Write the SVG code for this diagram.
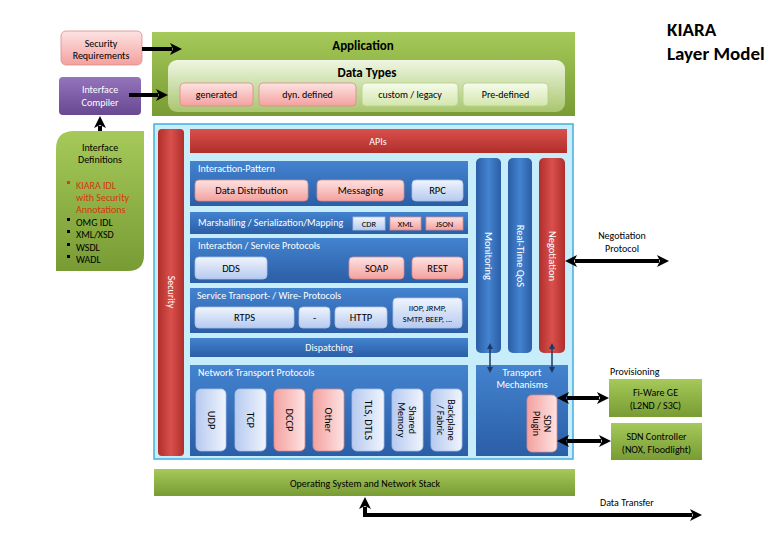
<svg xmlns="http://www.w3.org/2000/svg" width="780" height="540" viewBox="0 0 780 540">
<defs>
<linearGradient id="gPink" x1="0" y1="0" x2="0" y2="1"><stop offset="0" stop-color="#fde3e2"/><stop offset="1" stop-color="#f3a19f"/></linearGradient>
<linearGradient id="gPinkH" x1="0" y1="0" x2="1" y2="0"><stop offset="0" stop-color="#f3a19f"/><stop offset="1" stop-color="#fde3e2"/></linearGradient>
<linearGradient id="gLBlue" x1="0" y1="0" x2="0" y2="1"><stop offset="0" stop-color="#f0f4fd"/><stop offset="1" stop-color="#b6caf0"/></linearGradient>
<linearGradient id="gLBlueH" x1="0" y1="0" x2="1" y2="0"><stop offset="0" stop-color="#b6caf0"/><stop offset="1" stop-color="#f0f4fd"/></linearGradient>
<linearGradient id="gBlue" x1="0" y1="0" x2="0" y2="1"><stop offset="0" stop-color="#4383cf"/><stop offset="1" stop-color="#2b5ea6"/></linearGradient>
<linearGradient id="gBlueH" x1="0" y1="0" x2="1" y2="0"><stop offset="0" stop-color="#2b5ea6"/><stop offset="0.5" stop-color="#4383cf"/><stop offset="1" stop-color="#2b5ea6"/></linearGradient>
<linearGradient id="gRed" x1="0" y1="0" x2="0" y2="1"><stop offset="0" stop-color="#d9504c"/><stop offset="1" stop-color="#b02f2b"/></linearGradient>
<linearGradient id="gRedH" x1="0" y1="0" x2="1" y2="0"><stop offset="0" stop-color="#b02f2b"/><stop offset="0.5" stop-color="#d9504c"/><stop offset="1" stop-color="#b02f2b"/></linearGradient>
<linearGradient id="gGreen" x1="0" y1="0" x2="0" y2="1"><stop offset="0" stop-color="#a6c95a"/><stop offset="1" stop-color="#789b34"/></linearGradient>
<linearGradient id="gLGreen" x1="0" y1="0" x2="0" y2="1"><stop offset="0" stop-color="#eff6e2"/><stop offset="1" stop-color="#a9c66f"/></linearGradient>
<linearGradient id="gLGreenBox" x1="0" y1="0" x2="0" y2="1"><stop offset="0" stop-color="#f6fbec"/><stop offset="1" stop-color="#d3e6ad"/></linearGradient>
<linearGradient id="gPurple" x1="0" y1="0" x2="0" y2="1"><stop offset="0" stop-color="#9474bb"/><stop offset="1" stop-color="#684891"/></linearGradient>
<marker id="ah" viewBox="0 0 12 12" refX="2" refY="6" markerWidth="12" markerHeight="12" markerUnits="userSpaceOnUse" orient="auto-start-reverse"><path d="M0,0 L12,6 L0,12 L3,6 z" fill="#000"/></marker>
<marker id="sh" viewBox="0 0 6 6" refX="1" refY="3" markerWidth="6" markerHeight="6" markerUnits="userSpaceOnUse" orient="auto-start-reverse"><path d="M0,0 L6,3 L0,6 z" fill="#1f3864"/></marker>
</defs>
<style>
text{font-family:Carlito,"Liberation Sans",Arial,sans-serif;}
.c{text-anchor:middle;dominant-baseline:central;}
.l{dominant-baseline:central;}
.s9{font-size:10.5px;}
.s8{font-size:10px;}
.s7{font-size:8.5px;}
.w{fill:#fff;}
.k{fill:#000;}
.pink{fill:url(#gPink);stroke:#d98c8a;stroke-width:0.8;}
.pinkv{fill:url(#gPinkH);stroke:#d98c8a;stroke-width:0.8;}
.lb{fill:url(#gLBlue);stroke:#a9bfe6;stroke-width:0.8;}
.lbv{fill:url(#gLBlueH);stroke:#a9bfe6;stroke-width:0.8;}
.blue{fill:url(#gBlue);}
.bluev{fill:url(#gBlueH);}
.red{fill:url(#gRed);}
.redv{fill:url(#gRedH);}
.green{fill:url(#gGreen);}
.thick{stroke:#000;stroke-width:4;fill:none;marker-end:url(#ah);}
.thick2{stroke:#000;stroke-width:4;fill:none;marker-start:url(#ah);marker-end:url(#ah);}
.nav{stroke:#1f3864;stroke-width:1.5;fill:none;marker-start:url(#sh);marker-end:url(#sh);}
</style>

<g id="title">
<text x="667" y="36" style="font-size:19px;font-weight:bold;">KIARA</text>
<text x="667" y="60" style="font-size:19px;font-weight:bold;">Layer Model</text>
</g>

<g id="security-requirements">
<rect x="61" y="31" width="81" height="34" rx="5" class="pink"/>
<text x="101" y="43" class="c s8 k">Security</text>
<text x="101" y="55" class="c s8 k">Requirements</text>
</g>

<g id="interface-compiler">
<rect x="59" y="77" width="82" height="38" rx="4" fill="url(#gPurple)"/>
<text x="100" y="89" class="c s8 w">Interface</text>
<text x="100" y="102" class="c s8 w">Compiler</text>
</g>

<g id="interface-definitions">
<path d="M74,131 H144 V255 Q144,271 128,271 H56 V149 Q56,131 74,131 Z" class="green"/>
<text x="100" y="147" class="c s8 k">Interface</text>
<text x="100" y="159" class="c s8 k">Definitions</text>
<rect x="67" y="181" width="3" height="3" fill="#e03c10"/>
<text x="76" y="185" class="l s8" fill="#d8340c">KIARA IDL</text>
<text x="76" y="197" class="l s8" fill="#d8340c">with Security</text>
<text x="76" y="209" class="l s8" fill="#d8340c">Annotations</text>
<rect x="67" y="218" width="3" height="3" fill="#000"/>
<text x="76" y="222" class="l s8 k">OMG IDL</text>
<rect x="67" y="230" width="3" height="3" fill="#000"/>
<text x="76" y="234" class="l s8 k">XML/XSD</text>
<rect x="67" y="243" width="3" height="3" fill="#000"/>
<text x="76" y="247" class="l s8 k">WSDL</text>
<rect x="67" y="255" width="3" height="3" fill="#000"/>
<text x="76" y="259" class="l s8 k">WADL</text>
</g>

<g id="application">
<rect x="152" y="32" width="423" height="84" class="green"/>
<text x="363" y="45" class="c k" style="font-size:13px;font-weight:bold;">Application</text>
<rect x="168" y="60" width="397" height="52" rx="9" fill="url(#gLGreen)"/>
<text x="367" y="72" class="c k" style="font-size:13px;font-weight:bold;">Data Types</text>
<rect x="180" y="83" width="73" height="23" rx="4" class="pink"/>
<text x="216.5" y="94.5" class="c s8 k">generated</text>
<rect x="259" y="83" width="97" height="23" rx="4" class="pink"/>
<text x="307.5" y="94.5" class="c s8 k">dyn. defined</text>
<rect x="362" y="83" width="96" height="23" rx="4" fill="url(#gLGreenBox)" stroke="#b5cf86" stroke-width="0.8"/>
<text x="410" y="94.5" class="c s8 k">custom / legacy</text>
<rect x="463" y="83" width="85" height="23" rx="4" fill="url(#gLGreenBox)" stroke="#b5cf86" stroke-width="0.8"/>
<text x="505.5" y="94.5" class="c s8 k">Pre-defined</text>
</g>

<g id="middleware">
<rect x="154" y="124" width="419" height="335" fill="#c7ecfa" stroke="#44aedd" stroke-width="1.5"/>
</g>

<g id="security-bar">
<rect x="158" y="129" width="26" height="327" rx="4" class="redv"/>
<text x="171" y="292" class="c s8 w" transform="rotate(90 171 292)">Security</text>
</g>

<g id="apis">
<rect x="190" y="129" width="377" height="24" class="red"/>
<text x="378" y="141" class="c s8 w">APIs</text>
</g>

<g id="interaction-pattern">
<rect x="190" y="161" width="278" height="45" class="blue"/>
<text x="198" y="168" class="l s8 w">Interaction-Pattern</text>
<rect x="195" y="180" width="113" height="21" rx="4" class="pink"/>
<text x="251.5" y="190.5" class="c s9 k">Data Distribution</text>
<rect x="317" y="180" width="87" height="21" rx="4" class="pink"/>
<text x="360.5" y="190.5" class="c s9 k">Messaging</text>
<rect x="412" y="180" width="51" height="21" rx="4" class="lb"/>
<text x="437.5" y="190.5" class="c s9 k">RPC</text>
</g>

<g id="marshalling">
<rect x="190" y="212" width="278" height="22" class="blue"/>
<text x="198" y="222.5" class="l s8 w">Marshalling / Serialization/Mapping</text>
<rect x="353" y="217" width="32" height="13" class="lb"/>
<text x="369" y="223.5" class="c s7 k">CDR</text>
<rect x="390" y="217" width="31" height="13" class="pink"/>
<text x="405.5" y="223.5" class="c s7 k">XML</text>
<rect x="426" y="217" width="37" height="13" class="pink"/>
<text x="444.5" y="223.5" class="c s7 k">JSON</text>
</g>

<g id="service-protocols">
<rect x="190" y="238" width="278" height="45" class="blue"/>
<text x="198" y="245" class="l s8 w">Interaction / Service Protocols</text>
<rect x="195" y="257" width="72" height="22" rx="4" class="lb"/>
<text x="231" y="268" class="c s9 k">DDS</text>
<rect x="349" y="257" width="55" height="22" rx="4" class="pink"/>
<text x="376.5" y="268" class="c s9 k">SOAP</text>
<rect x="412" y="257" width="51" height="22" rx="4" class="pink"/>
<text x="437.5" y="268" class="c s9 k">REST</text>
</g>

<g id="wire-protocols">
<rect x="190" y="288" width="278" height="45" class="blue"/>
<text x="197" y="295" class="l s8 w">Service Transport- / Wire- Protocols</text>
<rect x="195" y="307" width="99" height="21" rx="4" class="lb"/>
<text x="244.5" y="317.5" class="c s9 k">RTPS</text>
<rect x="299" y="307" width="31" height="21" rx="4" class="lb"/>
<text x="314.5" y="317.5" class="c s9 k">-</text>
<rect x="335" y="307" width="52" height="21" rx="4" class="lb"/>
<text x="361" y="317.5" class="c s9 k">HTTP</text>
<rect x="393" y="298" width="69" height="30" rx="4" class="lb"/>
<text x="427.5" y="307.5" class="c s7 k">IIOP, JRMP,</text>
<text x="427.5" y="319" class="c s7 k">SMTP, BEEP, ...</text>
</g>

<g id="dispatching">
<rect x="190" y="338" width="278" height="19" class="blue"/>
<text x="329" y="347.5" class="c s8 w">Dispatching</text>
</g>

<g id="monitoring">
<rect x="476" y="158" width="25" height="195" rx="5" class="bluev"/>
<text x="488.5" y="256" class="c s9 w" transform="rotate(90 488.5 256)">Monitoring</text>
</g>
<g id="realtime-qos">
<rect x="508" y="158" width="24" height="195" rx="5" class="bluev"/>
<text x="520" y="256" class="c s9 w" transform="rotate(90 520 256)">Real-Time QoS</text>
</g>
<g id="negotiation">
<rect x="539" y="158" width="26" height="195" rx="5" class="redv"/>
<text x="552" y="256" class="c s9 w" transform="rotate(90 552 256)">Negotiation</text>
</g>

<g id="network-transport">
<rect x="190" y="365" width="278" height="91" class="blue"/>
<text x="198" y="372" class="l s8 w">Network Transport Protocols</text>
<rect x="196" y="389" width="30" height="62" rx="5" class="lbv"/>
<text x="211" y="420" class="c s9 k" transform="rotate(90 211 420)">UDP</text>
<rect x="235" y="389" width="31" height="62" rx="5" class="lbv"/>
<text x="250.5" y="420" class="c s9 k" transform="rotate(90 250.5 420)">TCP</text>
<rect x="274" y="389" width="31" height="62" rx="5" class="pinkv"/>
<text x="289.5" y="420" class="c s9 k" transform="rotate(90 289.5 420)">DCCP</text>
<rect x="313" y="389" width="31" height="62" rx="5" class="pinkv"/>
<text x="328.5" y="420" class="c s9 k" transform="rotate(90 328.5 420)">Other</text>
<rect x="352" y="389" width="32" height="62" rx="5" class="lbv"/>
<text x="368" y="420" class="c s9 k" transform="rotate(90 368 420)">TLS, DTLS</text>
<rect x="392" y="389" width="31" height="62" rx="5" class="lbv"/>
<text x="407.5" y="420" class="c s8 k" transform="rotate(90 407.5 420)"><tspan x="407.5" dy="-5.5">Shared</tspan><tspan x="407.5" dy="11">Memory</tspan></text>
<rect x="431" y="389" width="31" height="62" rx="5" class="lbv"/>
<text x="446.5" y="420" class="c s8 k" transform="rotate(90 446.5 420)"><tspan x="446.5" dy="-5.5">Backplane</tspan><tspan x="446.5" dy="11">/ Fabric</tspan></text>
</g>

<g id="transport-mechanisms">
<rect x="476" y="365" width="92" height="91" class="blue"/>
<text x="522" y="372" class="c s8 w">Transport</text>
<text x="522" y="384" class="c s8 w">Mechanisms</text>
</g>
<g id="sdn-plugin">
<rect x="527" y="395" width="30" height="57" rx="5" class="pinkv"/>
<text x="542" y="423.5" class="c s8 k" transform="rotate(90 542 423.5)"><tspan x="542" dy="-5.5">SDN</tspan><tspan x="542" dy="11">Plugin</tspan></text>
</g>

<g id="os">
<rect x="154" y="469" width="421" height="27" class="green"/>
<text x="365" y="483" class="c s8 k">Operating System and Network Stack</text>
</g>

<g id="fiware-ge">
<rect x="609" y="379" width="93" height="38" class="green"/>
<text x="655.5" y="392" class="c s8 k">Fi-Ware GE</text>
<text x="655.5" y="405" class="c s8 k">(L2ND / S3C)</text>
</g>
<g id="sdn-controller">
<rect x="611" y="423" width="91" height="37" class="green"/>
<text x="656.5" y="436" class="c s8 k">SDN Controller</text>
<text x="656.5" y="449" class="c s8 k">(NOX, Floodlight)</text>
</g>

<g id="labels">
<text x="622" y="235" class="c s8 k">Negotiation</text>
<text x="622" y="248" class="c s8 k">Protocol</text>
<text x="610" y="371" class="l s8 k">Provisioning</text>
<text x="600" y="502" class="l s8 k">Data Transfer</text>
</g>

<g id="connectors">
<line x1="142" y1="49" x2="172" y2="49" class="thick"/>
<line x1="129" y1="95" x2="158" y2="95" class="thick"/>
<line x1="100" y1="131" x2="100" y2="126" class="thick"/>
<line x1="575" y1="261" x2="659" y2="261" class="thick2"/>
<line x1="567" y1="398" x2="599" y2="398" class="thick2"/>
<line x1="567" y1="441" x2="601" y2="441" class="thick2"/>
<path d="M365,507 V515 H692" class="thick2"/>
<line x1="490" y1="348" x2="490" y2="368" class="nav"/>
<line x1="552" y1="348" x2="552" y2="368" class="nav"/>
</g>
</svg>
